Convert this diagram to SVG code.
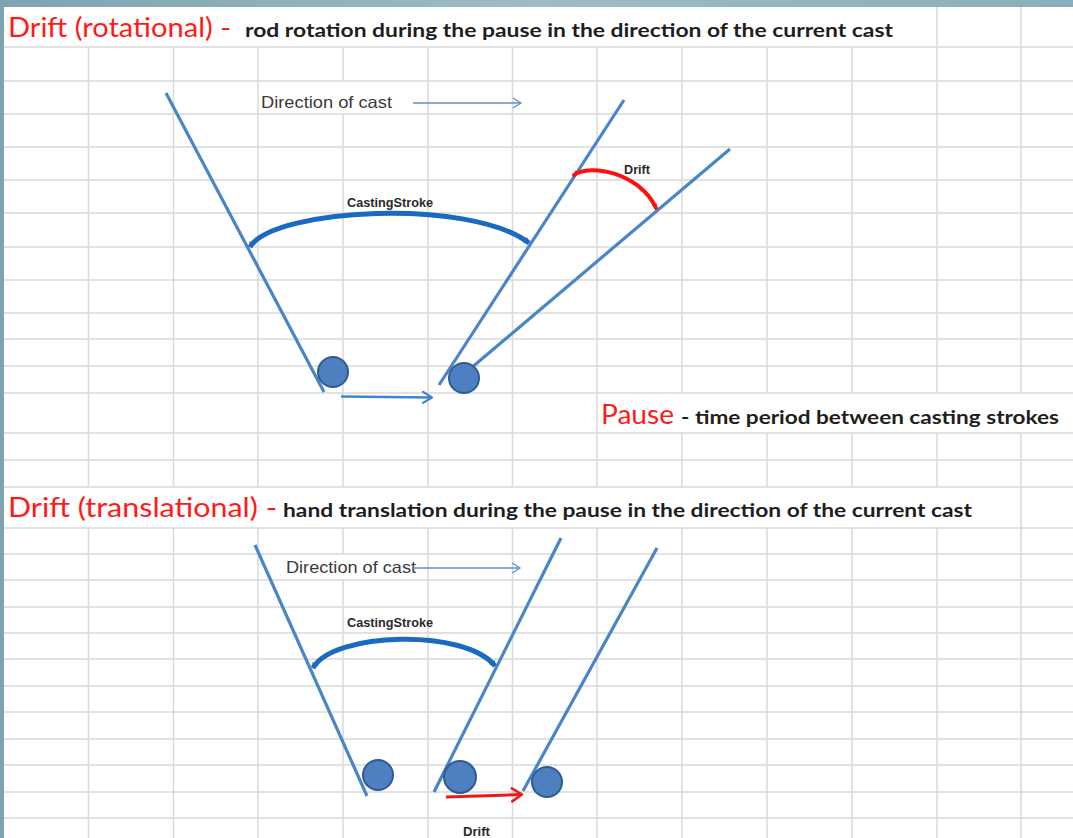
<svg xmlns="http://www.w3.org/2000/svg" width="1073" height="838" viewBox="0 0 1073 838">
<defs>
<linearGradient id="frame" x1="0" y1="0" x2="1" y2="0">
<stop offset="0" stop-color="#7ea3b1"/>
<stop offset="0.5" stop-color="#9dbcc6"/>
<stop offset="1" stop-color="#8aaebb"/>
</linearGradient>
<marker id="openBlue" markerUnits="userSpaceOnUse" markerWidth="14" markerHeight="14" refX="11" refY="7" orient="auto" overflow="visible">
<path d="M2,1.5 L11,7 L2,12.5" fill="none" stroke="#3a86d0" stroke-width="2.2" stroke-linecap="round" stroke-linejoin="round"/>
</marker>
<marker id="openThin" markerUnits="userSpaceOnUse" markerWidth="12" markerHeight="12" refX="9" refY="6" orient="auto" overflow="visible">
<path d="M1,1 L9,6 L1,11" fill="none" stroke="#5b8fcc" stroke-width="1.3"/>
</marker>
<marker id="openRed" markerUnits="userSpaceOnUse" markerWidth="14" markerHeight="16" refX="12" refY="8" orient="auto" overflow="visible">
<path d="M2,1.5 L12,8 L2,14.5" fill="none" stroke="#f01818" stroke-width="2.6" stroke-linecap="round" stroke-linejoin="round"/>
</marker>
<marker id="arcBlue" markerUnits="userSpaceOnUse" markerWidth="10" markerHeight="10" refX="5" refY="5" orient="auto-start-reverse" overflow="visible">
<path d="M0,1.5 L6,5 L0,8.5 z" fill="#1b6ac1"/>
</marker>
<marker id="arcRed" markerUnits="userSpaceOnUse" markerWidth="8" markerHeight="8" refX="4" refY="4" orient="auto-start-reverse" overflow="visible">
<path d="M0,1.2 L4.5,4 L0,6.8 z" fill="#ff1010"/>
</marker>
</defs>
<style>
.grid{fill:none;stroke:#d9d9d9;stroke-width:1.5}
.rod{stroke:#4a85c8;stroke-width:3.2;stroke-linecap:butt}
.ball{fill:#4e7fc0;stroke:#2f5b8f;stroke-width:2}
.arcB{fill:none;stroke:#1b6ac1;stroke-width:5;marker-start:url(#arcBlue);marker-end:url(#arcBlue)}
.arcR{fill:none;stroke:#ff1010;stroke-width:4;stroke-linecap:round;marker-start:url(#arcRed);marker-end:url(#arcRed)}
.red{font-family:Lato,"Liberation Sans",sans-serif;font-size:26px;fill:#ff1a1a}
.blk{font-family:Lato,"Liberation Sans",sans-serif;font-size:19px;font-weight:bold;fill:#1e1e1e}
.dir{font-family:"Liberation Sans",Arial,sans-serif;font-size:16.5px;fill:#3a3a3a}
.small{font-family:"Liberation Sans",Arial,sans-serif;font-size:12px;font-weight:bold;fill:#2a2a2a}
</style>
<rect x="0" y="0" width="1073" height="838" fill="url(#frame)"/>
<rect x="4" y="7" width="1069" height="831" fill="#ffffff"/>
<g id="grid">
<path class="grid" d="M4,47H1073 M4,81H1073 M4,114H1073 M4,147H1073 M4,180H1073 M4,213H1073 M4,247H1073 M4,280H1073 M4,313H1073 M4,339H1073 M4,366H1073 M4,393H1073 M4,433H1073 M4,460H1073 M4,487H1073 M4,528H1073 M4,554H1073 M4,580H1073 M4,607H1073 M4,633H1073 M4,659H1073 M4,686H1073 M4,712H1073 M4,739H1073 M4,765H1073 M4,792H1073 M4,818H1073"/>
<path class="grid" d="M88.5,47V487 M88.5,528V838 M173.5,47V487 M173.5,528V838 M258,47V487 M258,528V838 M343,47V81 M343,114V487 M343,528V554 M343,580V838 M428,47V487 M428,528V838 M512.5,47V487 M512.5,528V838 M597,47V487 M597,528V838 M682,47V393 M682,433V487 M682,528V838 M767,47V393 M767,433V487 M767,528V838 M852,47V393 M852,433V487 M852,528V838 M937,7V393 M937,433V487 M937,528V838 M1021,7V393 M1021,433V838"/>
</g>
<g id="title-rotational">
<text class="red" x="8" y="37" textLength="223" lengthAdjust="spacingAndGlyphs">Drift (rotational) -</text>
<text class="blk" x="245" y="37" textLength="648" lengthAdjust="spacingAndGlyphs">rod rotation during the pause in the direction of the current cast</text>
</g>
<g id="title-pause">
<text class="red" x="601" y="424" textLength="73" lengthAdjust="spacingAndGlyphs">Pause</text>
<text class="blk" x="681" y="424" textLength="378" lengthAdjust="spacingAndGlyphs">- time period between casting strokes</text>
</g>
<g id="title-translational">
<text class="red" x="8" y="517" textLength="269" lengthAdjust="spacingAndGlyphs">Drift (translational) -</text>
<text class="blk" x="283" y="517" textLength="689" lengthAdjust="spacingAndGlyphs">hand translation during the pause in the direction of the current cast</text>
</g>
<g id="top-diagram">
<g id="top-rod-start"><line class="rod" x1="166" y1="93" x2="324" y2="392"/></g>
<g id="top-rod-end"><line class="rod" x1="624" y1="100" x2="439" y2="385"/></g>
<g id="top-rod-drift"><line class="rod" x1="730" y1="149" x2="464" y2="374"/></g>
<g id="top-ball-1"><circle class="ball" cx="333" cy="372" r="15"/></g>
<g id="top-ball-2"><circle class="ball" cx="464" cy="378" r="15"/></g>
<g id="top-casting-stroke"><path class="arcB" d="M250,247 C273,208 470,198 529,243"/>
<text class="small" x="347" y="207" textLength="86" lengthAdjust="spacingAndGlyphs">CastingStroke</text></g>
<g id="top-drift"><path class="arcR" d="M574,175 C590,163 640,173 656,208"/>
<text class="small" x="624" y="174" textLength="26" lengthAdjust="spacingAndGlyphs">Drift</text></g>
<g id="top-direction"><text class="dir" x="261" y="108" textLength="131" lengthAdjust="spacingAndGlyphs">Direction of cast</text></g>
</g>
<g id="bottom-diagram">
<g id="bot-rod-1"><line class="rod" x1="255" y1="545" x2="367" y2="796"/></g>
<g id="bot-rod-2"><line class="rod" x1="561" y1="538" x2="434" y2="792"/></g>
<g id="bot-rod-3"><line class="rod" x1="657" y1="548" x2="523" y2="791"/></g>
<g id="bot-ball-1"><circle class="ball" cx="378" cy="775" r="15"/></g>
<g id="bot-ball-2"><circle class="ball" cx="460" cy="777" r="16"/></g>
<g id="bot-ball-3"><circle class="ball" cx="547" cy="782" r="15"/></g>
<g id="bot-casting-stroke"><path class="arcB" d="M313,668 C333,632 465,628 495,666"/>
<text class="small" x="347" y="627" textLength="86" lengthAdjust="spacingAndGlyphs">CastingStroke</text></g>
<g id="bot-direction"><text class="dir" x="286" y="573" textLength="130" lengthAdjust="spacingAndGlyphs">Direction of cast</text></g>
<g id="bot-drift-label"><text class="small" x="463" y="836" textLength="27" lengthAdjust="spacingAndGlyphs">Drift</text></g>
</g>
<g id="connectors">
<line x1="413" y1="103" x2="521" y2="103" stroke="#5b8fcc" stroke-width="1.3" marker-end="url(#openThin)"/>
<line x1="341" y1="396.5" x2="432" y2="397.5" stroke="#3a86d0" stroke-width="2.5" marker-end="url(#openBlue)"/>
<line x1="413" y1="568" x2="520" y2="568" stroke="#5b8fcc" stroke-width="1.3" marker-end="url(#openThin)"/>
<line x1="446" y1="797" x2="522" y2="794.5" stroke="#f01818" stroke-width="3" marker-end="url(#openRed)"/>
</g>
</svg>
